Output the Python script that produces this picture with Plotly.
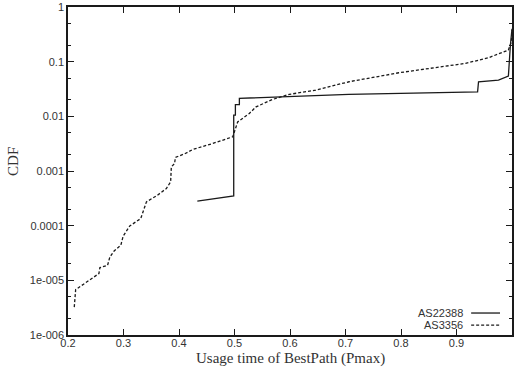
import plotly.graph_objects as go

# AS22388 (solid)
as22388_x = [0.433, 0.4986, 0.4986, 0.5016, 0.5016, 0.5088, 0.5088, 0.706, 0.938, 0.9397, 0.9756, 0.9935, 0.9971, 0.9989, 1.0]
as22388_y = [2.8e-4, 3.5e-4, 0.0105, 0.0105, 0.0164, 0.0164, 0.0213, 0.0252, 0.0281, 0.0428, 0.046, 0.0545, 0.20, 0.30, 0.40]

# AS3356 (dashed)
as3356_x = [0.2113, 0.2138, 0.2557, 0.2575, 0.2713, 0.2754, 0.2831, 0.2952, 0.2993, 0.3113,
            0.3311, 0.3413, 0.3610, 0.3772, 0.3849, 0.3862, 0.3921, 0.3934, 0.4113, 0.4250,
            0.4609, 0.4968, 0.4998, 0.5057, 0.5267, 0.5388, 0.5686, 0.5986, 0.6465, 0.6883,
            0.7063, 0.7961, 0.8553, 0.9163, 0.9576, 0.9935, 0.9989, 1.0]
as3356_y = [3.24e-6, 6.76e-6, 1.33e-5, 1.71e-5, 1.88e-5, 2.67e-5, 3.44e-5, 4.38e-5, 6.4e-5, 9.88e-5,
            1.35e-4, 2.72e-4, 3.6e-4, 4.78e-4, 6.31e-4, 1.19e-3, 1.37e-3, 1.77e-3, 2.09e-3, 2.48e-3,
            3.19e-3, 4.22e-3, 5.2e-3, 7.9e-3, 0.0113, 0.0149, 0.0204, 0.0252, 0.0302, 0.0384,
            0.0429, 0.0627, 0.0754, 0.0931, 0.118, 0.163, 0.231, 0.38]

x_ticks = [0.2, 0.3, 0.4, 0.5, 0.6, 0.7, 0.8, 0.9, 1.0]
x_ticklabels = ["0.2", "0.3", "0.4", "0.5", "0.6", "0.7", "0.8", "0.9", "1"]
y_ticks = [1e-6, 1e-5, 1e-4, 1e-3, 1e-2, 1e-1, 1]
y_ticklabels = ["1e-006", "1e-005", "0.0001", "0.001", "0.01", "0.1", "1"]
y_minor = [m * 10.0 ** e for e in range(-6, 0) for m in (2, 5)]

series_names = ["AS22388", "AS3356"]
x_title = "Usage time of BestPath (Pmax)"
y_title = "CDF"

fig = go.Figure()
fig.add_trace(go.Scatter(x=as22388_x, y=as22388_y, mode="lines", name=series_names[0],
                         line=dict(color="#1a1a1a", width=1.3), showlegend=False))
fig.add_trace(go.Scatter(x=as3356_x, y=as3356_y, mode="lines", name=series_names[1],
                         line=dict(color="#1a1a1a", width=1.3, dash="3px,2px"), showlegend=False))

# legend (gnuplot style: text then line sample)
for i, (name, dash) in enumerate(zip(series_names, ["solid", "3px,2px"])):
    yy = 0.067 - i * 0.037
    fig.add_annotation(xref="paper", yref="paper", x=0.894, y=yy, text=name, showarrow=False,
                       xanchor="right", yanchor="middle",
                       font=dict(family="Liberation Sans, Arial", size=11, color="#333"))
    fig.add_shape(type="line", xref="paper", yref="paper", x0=0.908, x1=0.973, y0=yy, y1=yy,
                  line=dict(color="#1a1a1a", width=1.3, dash=dash))

title_font = dict(family="Liberation Serif, Times New Roman", size=15, color="#333")
fig.add_annotation(xref="paper", yref="paper", x=0.501, y=-0.072, text=x_title, showarrow=False,
                   xanchor="center", yanchor="middle", font=title_font)
fig.add_annotation(xref="paper", yref="paper", x=-0.1244, y=0.530, text=y_title, showarrow=False,
                   textangle=-90, xanchor="center", yanchor="middle", font=title_font)

axis_common = dict(showline=True, linecolor="#1a1a1a", linewidth=1.5, ticks="inside",
                   tickcolor="#1a1a1a", mirror="ticks", showgrid=False, zeroline=False,
                   tickfont=dict(family="Liberation Sans, Arial", size=11, color="#333"))

fig.update_xaxes(range=[0.2, 1.0], tickvals=x_ticks, ticktext=x_ticklabels, ticklen=6,
                 ticklabelstandoff=-3, **axis_common)
fig.update_yaxes(type="log", range=[-6, 0], tickvals=y_ticks, ticktext=y_ticklabels, ticklen=6,
                 minor=dict(tickvals=y_minor, ticks="inside", ticklen=3, tickcolor="#1a1a1a"),
                 **axis_common)

fig.update_layout(width=514, height=368, margin=dict(l=68, r=0, t=7, b=33),
                  plot_bgcolor="white", paper_bgcolor="white")

fig.write_html("out.html", config={"displayModeBar": False},
               post_script="document.body.style.margin='0';document.body.style.padding='0';")
